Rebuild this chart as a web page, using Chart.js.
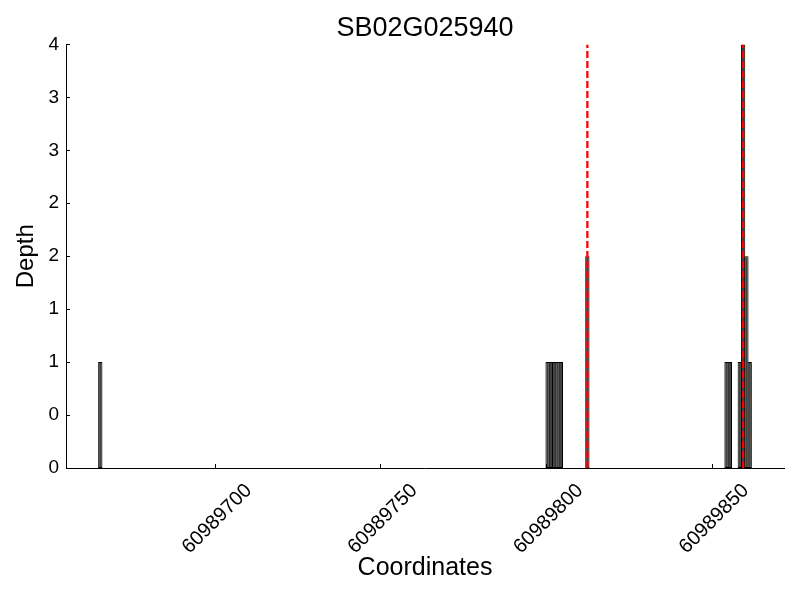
<!DOCTYPE html>
<html lang="en">
<head>
    <meta charset="UTF-8">
    <title>SB02G025940</title>
    <script src="https://cdn.jsdelivr.net/npm/chart.js"></script>
    <style>
        body { margin: 0; background: #fff; }
        #wrap { width: 800px; height: 600px; }
    </style>
</head>
<body>
    <div id="wrap"><canvas id="depthChart"></canvas></div>

    <script>
        // bar start coordinates and depths
        const positions = [60989665, 60989800, 60989801, 60989802, 60989803, 60989804, 60989812,
                           60989854, 60989855, 60989858, 60989859, 60989860, 60989861];
        const depths = [1, 1, 1, 1, 1, 1, 2, 1, 1, 1, 4, 2, 1];
        const markers = [60989812.5, 60989859.5];
        const xTicks = [60989700, 60989750, 60989800, 60989850];
        const xRange = [60989655.15, 60989871.85];
        const yRange = [0, 4];

        const fontFamily = '"Liberation Sans", Arial, sans-serif';

        const barData = positions.map((p, i) => ({ x: p + 0.5, y: depths[i] }));

        const markerSets = markers.map(m => ({
            type: 'line',
            order: 1,
            data: [{ x: m, y: yRange[0] }, { x: m, y: yRange[1] }],
            borderColor: '#ff0000',
            borderWidth: 2.3,
            borderDash: [7, 3],
            pointRadius: 0,
            fill: false
        }));

        // inward tick marks, title centred over the plot area
        const axesLook = {
            id: 'axesLook',
            afterLayout(chart) {
                const t = chart.titleBlock;
                if (t) {
                    t.left = chart.chartArea.left;
                    t.right = chart.chartArea.right;
                    t.width = t.right - t.left;
                }
            },
            afterDatasetsDraw(chart) {
                const { ctx, scales: { x, y } } = chart;
                ctx.save();
                ctx.strokeStyle = '#000';
                ctx.lineWidth = 1;
                ctx.beginPath();
                x.ticks.forEach(t => {
                    const px = Math.round(x.getPixelForValue(t.value)) + 0.5;
                    ctx.moveTo(px, y.bottom);
                    ctx.lineTo(px, y.bottom - 4);
                });
                y.ticks.forEach(t => {
                    const py = Math.round(y.getPixelForValue(t.value)) + 0.5;
                    ctx.moveTo(x.left, py);
                    ctx.lineTo(x.left + 4, py);
                });
                ctx.stroke();
                ctx.restore();
            }
        };

        const chart = new Chart(document.getElementById('depthChart'), {
            type: 'bar',
            data: {
                datasets: [{
                    order: 2,
                    data: barData,
                    backgroundColor: '#404040',
                    borderColor: '#000000',
                    borderWidth: 1,
                    borderSkipped: false,
                    barPercentage: 1.3,
                    categoryPercentage: 1
                }, ...markerSets]
            },
            options: {
                responsive: true,
                maintainAspectRatio: false,
                animation: false,
                layout: { padding: { left: 0, right: 16, top: 0, bottom: 0 } },
                plugins: {
                    legend: { display: false },
                    tooltip: { enabled: false },
                    title: {
                        display: true,
                        text: 'SB02G025940',
                        color: '#000',
                        font: { family: fontFamily, size: 27, weight: 'normal' },
                        padding: { top: 12, bottom: 0 }
                    }
                },
                scales: {
                    x: {
                        type: 'linear',
                        min: xRange[0],
                        max: xRange[1],
                        offset: false,
                        grid: { display: false, drawTicks: false },
                        border: { display: true, color: '#000', width: 1 },
                        afterBuildTicks: s => { s.ticks = xTicks.map(v => ({ value: v })); },
                        afterFit: s => { s.height = 132; },
                        ticks: {
                            color: '#000',
                            font: { family: fontFamily, size: 20 },
                            minRotation: 45,
                            maxRotation: 45,
                            padding: 11,
                            labelOffset: 34,
                            callback: v => String(v)
                        },
                        title: {
                            display: true,
                            text: 'Coordinates',
                            color: '#000',
                            font: { family: fontFamily, size: 25 },
                            padding: { top: 0, bottom: 17 }
                        }
                    },
                    y: {
                        min: yRange[0],
                        max: yRange[1],
                        grid: { display: false, drawTicks: false },
                        border: { display: true, color: '#000', width: 1 },
                        afterFit: s => { s.width = 66; },
                        ticks: {
                            stepSize: 0.5,
                            color: '#000',
                            font: { family: fontFamily, size: 19 },
                            padding: 7,
                            callback: v => String(Math.floor(v))
                        },
                        title: {
                            display: true,
                            text: 'Depth',
                            color: '#000',
                            font: { family: fontFamily, size: 24 },
                            padding: { top: 12, bottom: 0 }
                        }
                    }
                }
            },
            plugins: [axesLook]
        });
    </script>
</body>
</html>
